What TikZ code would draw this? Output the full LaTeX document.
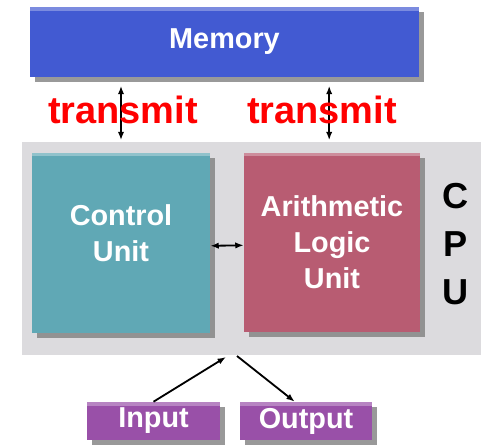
\documentclass[tikz,border=0pt]{standalone}
\usepackage{fontspec}
\setmainfont{Liberation Sans}
\usepackage{xcolor}
\definecolor{membox}{RGB}{66, 90, 210}
\definecolor{ctlbox}{RGB}{96, 168, 181}
\definecolor{alubox}{RGB}{184, 92, 114}
\definecolor{iobox}{RGB}{153, 80, 168}
\definecolor{cpubg}{RGB}{220, 219, 222}
\usetikzlibrary{positioning,shadows,arrows.meta}

\begin{document}
\begin{tikzpicture}[
        x=0.025cm, y=-0.025cm,
        unit/.style={rectangle, inner sep=0pt, text=white, align=center,
            font=\fontsize{20.5}{25.6}\selectfont\bfseries,
            drop shadow={shadow xshift=3.5pt, shadow yshift=-3.5pt, opacity=0.8},
            path picture={\fill[white, opacity=0.3] (path picture bounding box.north west) rectangle ([yshift=-2.5pt]path picture bounding box.north east);}},
        tag/.style={text=red, inner sep=0pt, font=\fontsize{27}{30}\selectfont\bfseries},
        arr/.style={-{Latex[length=6pt,width=4.5pt]}, line width=1.3pt, black},
        dbl/.style={{Latex[length=6pt,width=4.5pt]}-{Latex[length=6pt,width=4.5pt]}, line width=1.3pt, black}
    ]
    \useasboundingbox (0,0) rectangle (481,447);
    \node[fill=cpubg, minimum width=11.475cm, minimum height=5.325cm, inner sep=0pt] (cpu) at (251.5,248.5) {};
    \node[unit, fill=membox, minimum width=9.725cm, minimum height=1.75cm] (mem) at (224.5,42) {Memory};
    \node[unit, fill=ctlbox, minimum width=4.45cm, minimum height=4.5cm] (cu) at (121,243) {Control\\Unit\\[-0.4cm]};
    \node[unit, fill=alubox, minimum width=4.4cm, minimum height=4.475cm] (alu) at (332,242.5) {Arithmetic\\Logic\\Unit};
    \node[align=center, inner sep=0pt, font=\fontsize{25.7}{34}\selectfont\bfseries] (cpulbl) at (456,244) {C\\P\\U};
    \node[unit, fill=iobox, minimum width=3.325cm, minimum height=0.95cm] (in) at (153.5,421) {Input};
    \node[unit, fill=iobox, minimum width=3.3cm, minimum height=0.95cm] (out) at (306,421) {Output};
    \coordinate (inport) at (226,357);
    \coordinate (outport) at (237,356);
    % memory <-> cpu
    \draw[dbl, shorten <=6pt, shorten >=1pt] (cu.center |- mem.south) -- (cu.center |- cpu.north);
    \draw[dbl, shorten <=6pt, shorten >=1pt] ([xshift=-2]alu.center |- mem.south) -- ([xshift=-2]alu.center |- cpu.north);
    \node[tag] (tx1) at (123,110) {transmit};
    \node[tag] (tx2) at (322,110) {transmit};
    % inside the cpu
    \draw[dbl] ([yshift=-2]cu.east) -- ([yshift=-2]alu.west);
    % input / output
    \draw[arr] (in.north) -- (inport);
    \draw[arr] (outport) -- ([xshift=-8]out.north);
\end{tikzpicture}
\end{document}
